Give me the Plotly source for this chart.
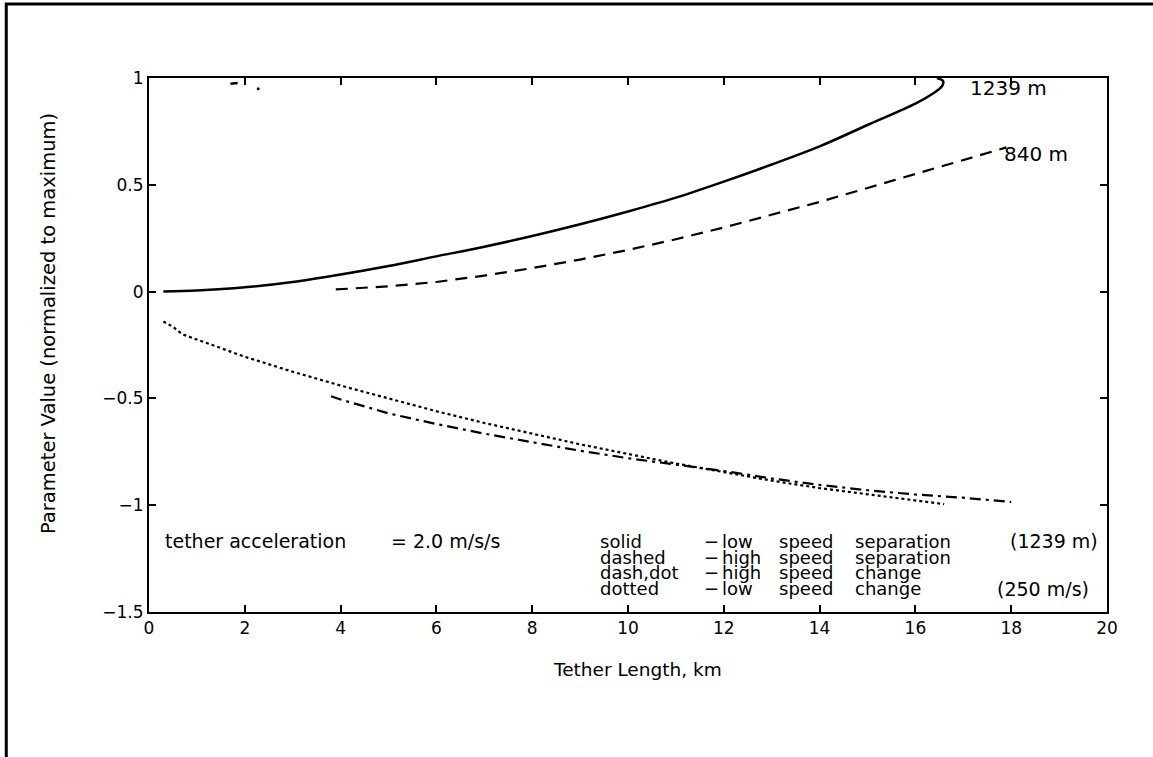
import plotly.graph_objects as go

# ---- data ----
solid_x = [0.3, 1, 2, 3, 4, 5, 6, 7, 8, 9, 10, 11, 12, 13, 14, 15, 16, 16.35, 16.55, 16.58, 16.45]
solid_y = [0.0, 0.005, 0.02, 0.045, 0.08, 0.12, 0.165, 0.21, 0.26, 0.315, 0.375, 0.44, 0.515,
           0.595, 0.68, 0.78, 0.88, 0.925, 0.96, 0.985, 1.0]

dashed_x = [3.9, 5, 6, 7, 8, 9, 10, 11, 12, 13, 14, 15, 16, 17, 17.9]
dashed_y = [0.01, 0.025, 0.045, 0.075, 0.11, 0.15, 0.195, 0.245, 0.3, 0.36, 0.42, 0.485,
            0.55, 0.615, 0.675]

dotted_x = [0.3, 0.5, 0.7, 1, 2, 3, 4, 5, 6, 7, 8, 9, 10, 11, 12, 13, 14, 15, 16, 16.6]
dotted_y = [-0.14, -0.165, -0.2, -0.225, -0.305, -0.375, -0.44, -0.5, -0.56, -0.615, -0.665,
            -0.715, -0.76, -0.805, -0.845, -0.885, -0.92, -0.95, -0.978, -0.995]

dashdot_x = [3.8, 4, 5, 6, 7, 8, 9, 10, 11, 12, 13, 14, 15, 16, 17, 18]
dashdot_y = [-0.49, -0.505, -0.57, -0.62, -0.665, -0.705, -0.745, -0.78, -0.81, -0.84,
             -0.875, -0.905, -0.93, -0.95, -0.965, -0.985]

stray_x = [1.7, 1.85]
stray_y = [0.973, 0.977]
stray_dot_x = [2.28]
stray_dot_y = [0.95]

x_ticks = [0, 2, 4, 6, 8, 10, 12, 14, 16, 18, 20]
y_ticks = [-1.5, -1, -0.5, 0, 0.5, 1]

end_labels = ["1239 m", "840 m"]
end_label_x = [17.1, 17.8]
end_label_y = [0.953, 0.644]

note_left = ["tether acceleration", "= 2.0 m/s/s"]
style_names = ["solid", "dashed", "dash,dot", "dotted"]
speed_words = ["low", "high", "high", "low"]
kind_words = ["separation", "separation", "change", "change"]
extra_words = ["(1239 m)", "", "", "(250 m/s)"]

FONT = "DejaVu Sans"
BLACK = "#000000"

fig = go.Figure()
fig.add_trace(go.Scatter(x=solid_x, y=solid_y, mode="lines", line_shape="spline",
                         line=dict(color=BLACK, width=2.5), showlegend=False))
fig.add_trace(go.Scatter(x=dashed_x, y=dashed_y, mode="lines",
                         line=dict(color=BLACK, width=2.2, dash="12px,8px"), showlegend=False))
fig.add_trace(go.Scatter(x=dotted_x, y=dotted_y, mode="lines",
                         line=dict(color=BLACK, width=2.2, dash="3px,3px"), showlegend=False))
fig.add_trace(go.Scatter(x=dashdot_x, y=dashdot_y, mode="lines",
                         line=dict(color=BLACK, width=2.2, dash="11px,5px,3px,5px"), showlegend=False))
fig.add_trace(go.Scatter(x=stray_x, y=stray_y, mode="lines",
                         line=dict(color=BLACK, width=2.5), showlegend=False))
fig.add_trace(go.Scatter(x=stray_dot_x, y=stray_dot_y, mode="markers",
                         marker=dict(color=BLACK, size=3), showlegend=False))

annotations = []
for t, x, y in zip(end_labels, end_label_x, end_label_y):
    annotations.append(dict(x=x, y=y, xref="x", yref="y", text=t, showarrow=False,
                            xanchor="left", yanchor="middle",
                            font=dict(family=FONT, size=20, color=BLACK)))

row_y = [-1.168, -1.243, -1.317, -1.392]
fs = 18
annotations.append(dict(x=0.29, y=row_y[0], xref="x", yref="y", text=note_left[0],
                        showarrow=False, xanchor="left", yanchor="middle",
                        font=dict(family=FONT, size=19, color=BLACK)))
annotations.append(dict(x=5.01, y=row_y[0], xref="x", yref="y", text=note_left[1],
                        showarrow=False, xanchor="left", yanchor="middle",
                        font=dict(family=FONT, size=19, color=BLACK)))
for i in range(4):
    for txt, xx in [(style_names[i], 9.37), ("\u2212", 11.55), (speed_words[i], 11.92),
                    ("speed", 13.11), (kind_words[i], 14.70)]:
        annotations.append(dict(x=xx, y=row_y[i], xref="x", yref="y", text=txt,
                                showarrow=False, xanchor="left", yanchor="middle",
                                font=dict(family=FONT, size=fs, color=BLACK)))
    if extra_words[i]:
        annotations.append(dict(x=19.85 if i == 0 else 19.67, y=row_y[i], xref="x", yref="y",
                                text=extra_words[i], showarrow=False, xanchor="right",
                                yanchor="middle", font=dict(family=FONT, size=19, color=BLACK)))

annotations.append(dict(x=0.51, y=-0.107, xref="paper", yref="paper", text="Tether Length, km",
                        showarrow=False, xanchor="center", yanchor="middle",
                        font=dict(family=FONT, size=18.5, color=BLACK)))
annotations.append(dict(x=-0.105, y=0.54, xref="paper", yref="paper",
                        text="Parameter Value (normalized to maximum)", textangle=-90,
                        showarrow=False, xanchor="center", yanchor="middle",
                        font=dict(family=FONT, size=19.5, color=BLACK)))

fig.update_layout(
    width=1153, height=757,
    margin=dict(l=149, r=46, t=78, b=145),
    paper_bgcolor="white", plot_bgcolor="white",
    font=dict(family=FONT, size=16, color=BLACK),
    annotations=annotations,
    shapes=[dict(type="rect", xref="paper", yref="paper",
                 x0=-0.149, y0=-0.32, x1=1.2, y1=1.1386,
                 line=dict(color=BLACK, width=3), fillcolor="rgba(0,0,0,0)", layer="above")],
)
fig.update_xaxes(range=[0, 20], tickvals=x_ticks, ticktext=[str(v) for v in x_ticks],
                 ticks="inside", ticklen=7, tickwidth=1.5, tickcolor=BLACK,
                 showline=True, linecolor=BLACK, linewidth=2, mirror="ticks",
                 showgrid=False, zeroline=False,
                 tickfont=dict(family=FONT, size=17, color=BLACK))
fig.update_yaxes(range=[-1.5, 1], tickvals=y_ticks,
                 ticktext=["\u22121.5", "\u22121", "\u22120.5", "0", "0.5", "1"],
                 ticks="inside", ticklen=7, tickwidth=1.5, tickcolor=BLACK,
                 showline=True, linecolor=BLACK, linewidth=2, mirror="ticks",
                 showgrid=False, zeroline=False,
                 tickfont=dict(family=FONT, size=17, color=BLACK))

fig.write_html("out.html")
